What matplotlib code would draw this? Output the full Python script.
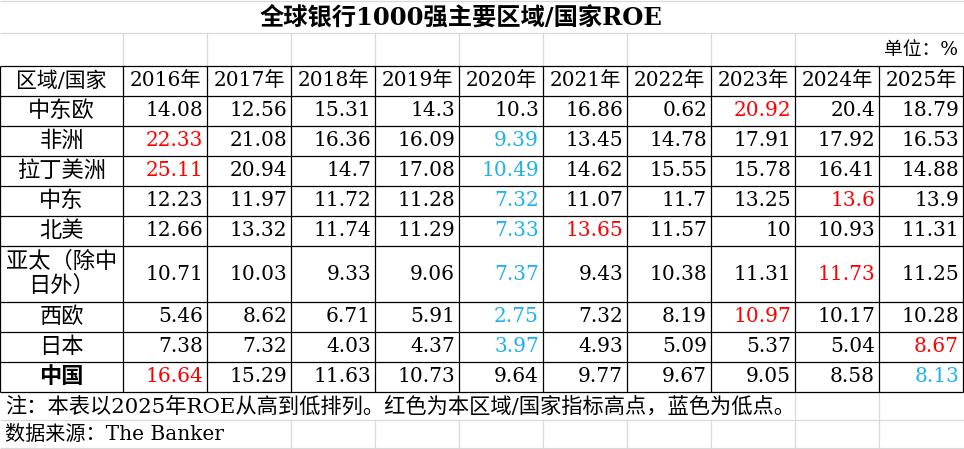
import matplotlib.pyplot as plt

plt.rcParams['font.family'] = ['DejaVu Serif', 'Noto Sans CJK SC']

title = '全球银行1000强主要区域/国家ROE'
unit = '单位：%'
corner = '区域/国家'
years = ['2016年', '2017年', '2018年', '2019年', '2020年',
         '2021年', '2022年', '2023年', '2024年', '2025年']
regions = ['中东欧', '非洲', '拉丁美洲', '中东', '北美',
           '亚太（除中\n日外）', '西欧', '日本', '中国']
roe = [
    [14.08, 12.56, 15.31, 14.3, 10.3, 16.86, 0.62, 20.92, 20.4, 18.79],
    [22.33, 21.08, 16.36, 16.09, 9.39, 13.45, 14.78, 17.91, 17.92, 16.53],
    [25.11, 20.94, 14.7, 17.08, 10.49, 14.62, 15.55, 15.78, 16.41, 14.88],
    [12.23, 11.97, 11.72, 11.28, 7.32, 11.07, 11.7, 13.25, 13.6, 13.9],
    [12.66, 13.32, 11.74, 11.29, 7.33, 13.65, 11.57, 10, 10.93, 11.31],
    [10.71, 10.03, 9.33, 9.06, 7.37, 9.43, 10.38, 11.31, 11.73, 11.25],
    [5.46, 8.62, 6.71, 5.91, 2.75, 7.32, 8.19, 10.97, 10.17, 10.28],
    [7.38, 7.32, 4.03, 4.37, 3.97, 4.93, 5.09, 5.37, 5.04, 8.67],
    [16.64, 15.29, 11.63, 10.73, 9.64, 9.77, 9.67, 9.05, 8.58, 8.13],
]
# column index of the value marked red (high) / blue (low) in each row
high_col = [7, 0, 0, 8, 5, 8, 7, 9, 0]
low_col = [None, 4, 4, 4, 4, 4, 4, 4, 9]
note = '注：本表以2025年ROE从高到低排列。红色为本区域/国家指标高点，蓝色为低点。'
source = '数据来源：The Banker'

RED = '#ff0000'
BLUE = '#1fb0f0'
GRID = '#d9d9d9'

# sheet geometry in pixels
col_x = [0, 123, 207, 291, 375, 459, 543, 627, 711, 795, 879, 963]
row_y = [66, 96, 126, 156, 186, 216, 246, 302, 332, 362, 392]

fig = plt.figure(figsize=(9.64, 4.49), dpi=100)
ax = fig.add_axes([0, 0, 1, 1])
ax.set_xlim(0, 964)
ax.set_ylim(449, 0)
ax.axis('off')

fs = 14.5
lw = 0.9

# light sheet grid outside the table
ax.hlines([0.5, 33, 420, 448], 0, 964, color=GRID, lw=lw)
ax.vlines(col_x[1:10], 33, 66, color=GRID, lw=lw)
ax.vlines(col_x[9:11], 392, 420, color=GRID, lw=lw)
ax.vlines(col_x[3:11], 420, 448, color=GRID, lw=lw)

# table borders
ax.hlines(row_y, 0, col_x[-1], color='black', lw=lw)
ax.vlines(col_x, row_y[0], row_y[-1], color='black', lw=lw)

ax.text(461, 18, title, ha='center', va='center', fontsize=17.5, fontweight='bold')
ax.text(958, 50, unit, ha='right', va='center', fontsize=fs - 1)

# header
hy = (row_y[0] + row_y[1]) / 2
ax.text((col_x[0] + col_x[1]) / 2, hy, corner, ha='center', va='center', fontsize=fs + 0.5)
for j, yr in enumerate(years):
    ax.text((col_x[j + 1] + col_x[j + 2]) / 2, hy, yr,
            ha='center', va='center', fontsize=fs)

# body
for i, name in enumerate(regions):
    yc = (row_y[i + 1] + row_y[i + 2]) / 2
    bold = 'bold' if name == '中国' else 'normal'
    ax.text((col_x[0] + col_x[1]) / 2, yc, name, ha='center', va='center',
            fontsize=fs + 1.5, fontweight=bold, linespacing=1.1)
    for j, v in enumerate(roe[i]):
        color = 'black'
        if j == high_col[i]:
            color = RED
        elif j == low_col[i]:
            color = BLUE
        ax.text(col_x[j + 2] - 4, yc, f'{v:g}', ha='right', va='center',
                fontsize=fs, color=color)

ax.text(5, 406, note, ha='left', va='center', fontsize=fs + 0.8)
ax.text(5, 434, source, ha='left', va='center', fontsize=fs)

fig.savefig('out.png', dpi=100)
